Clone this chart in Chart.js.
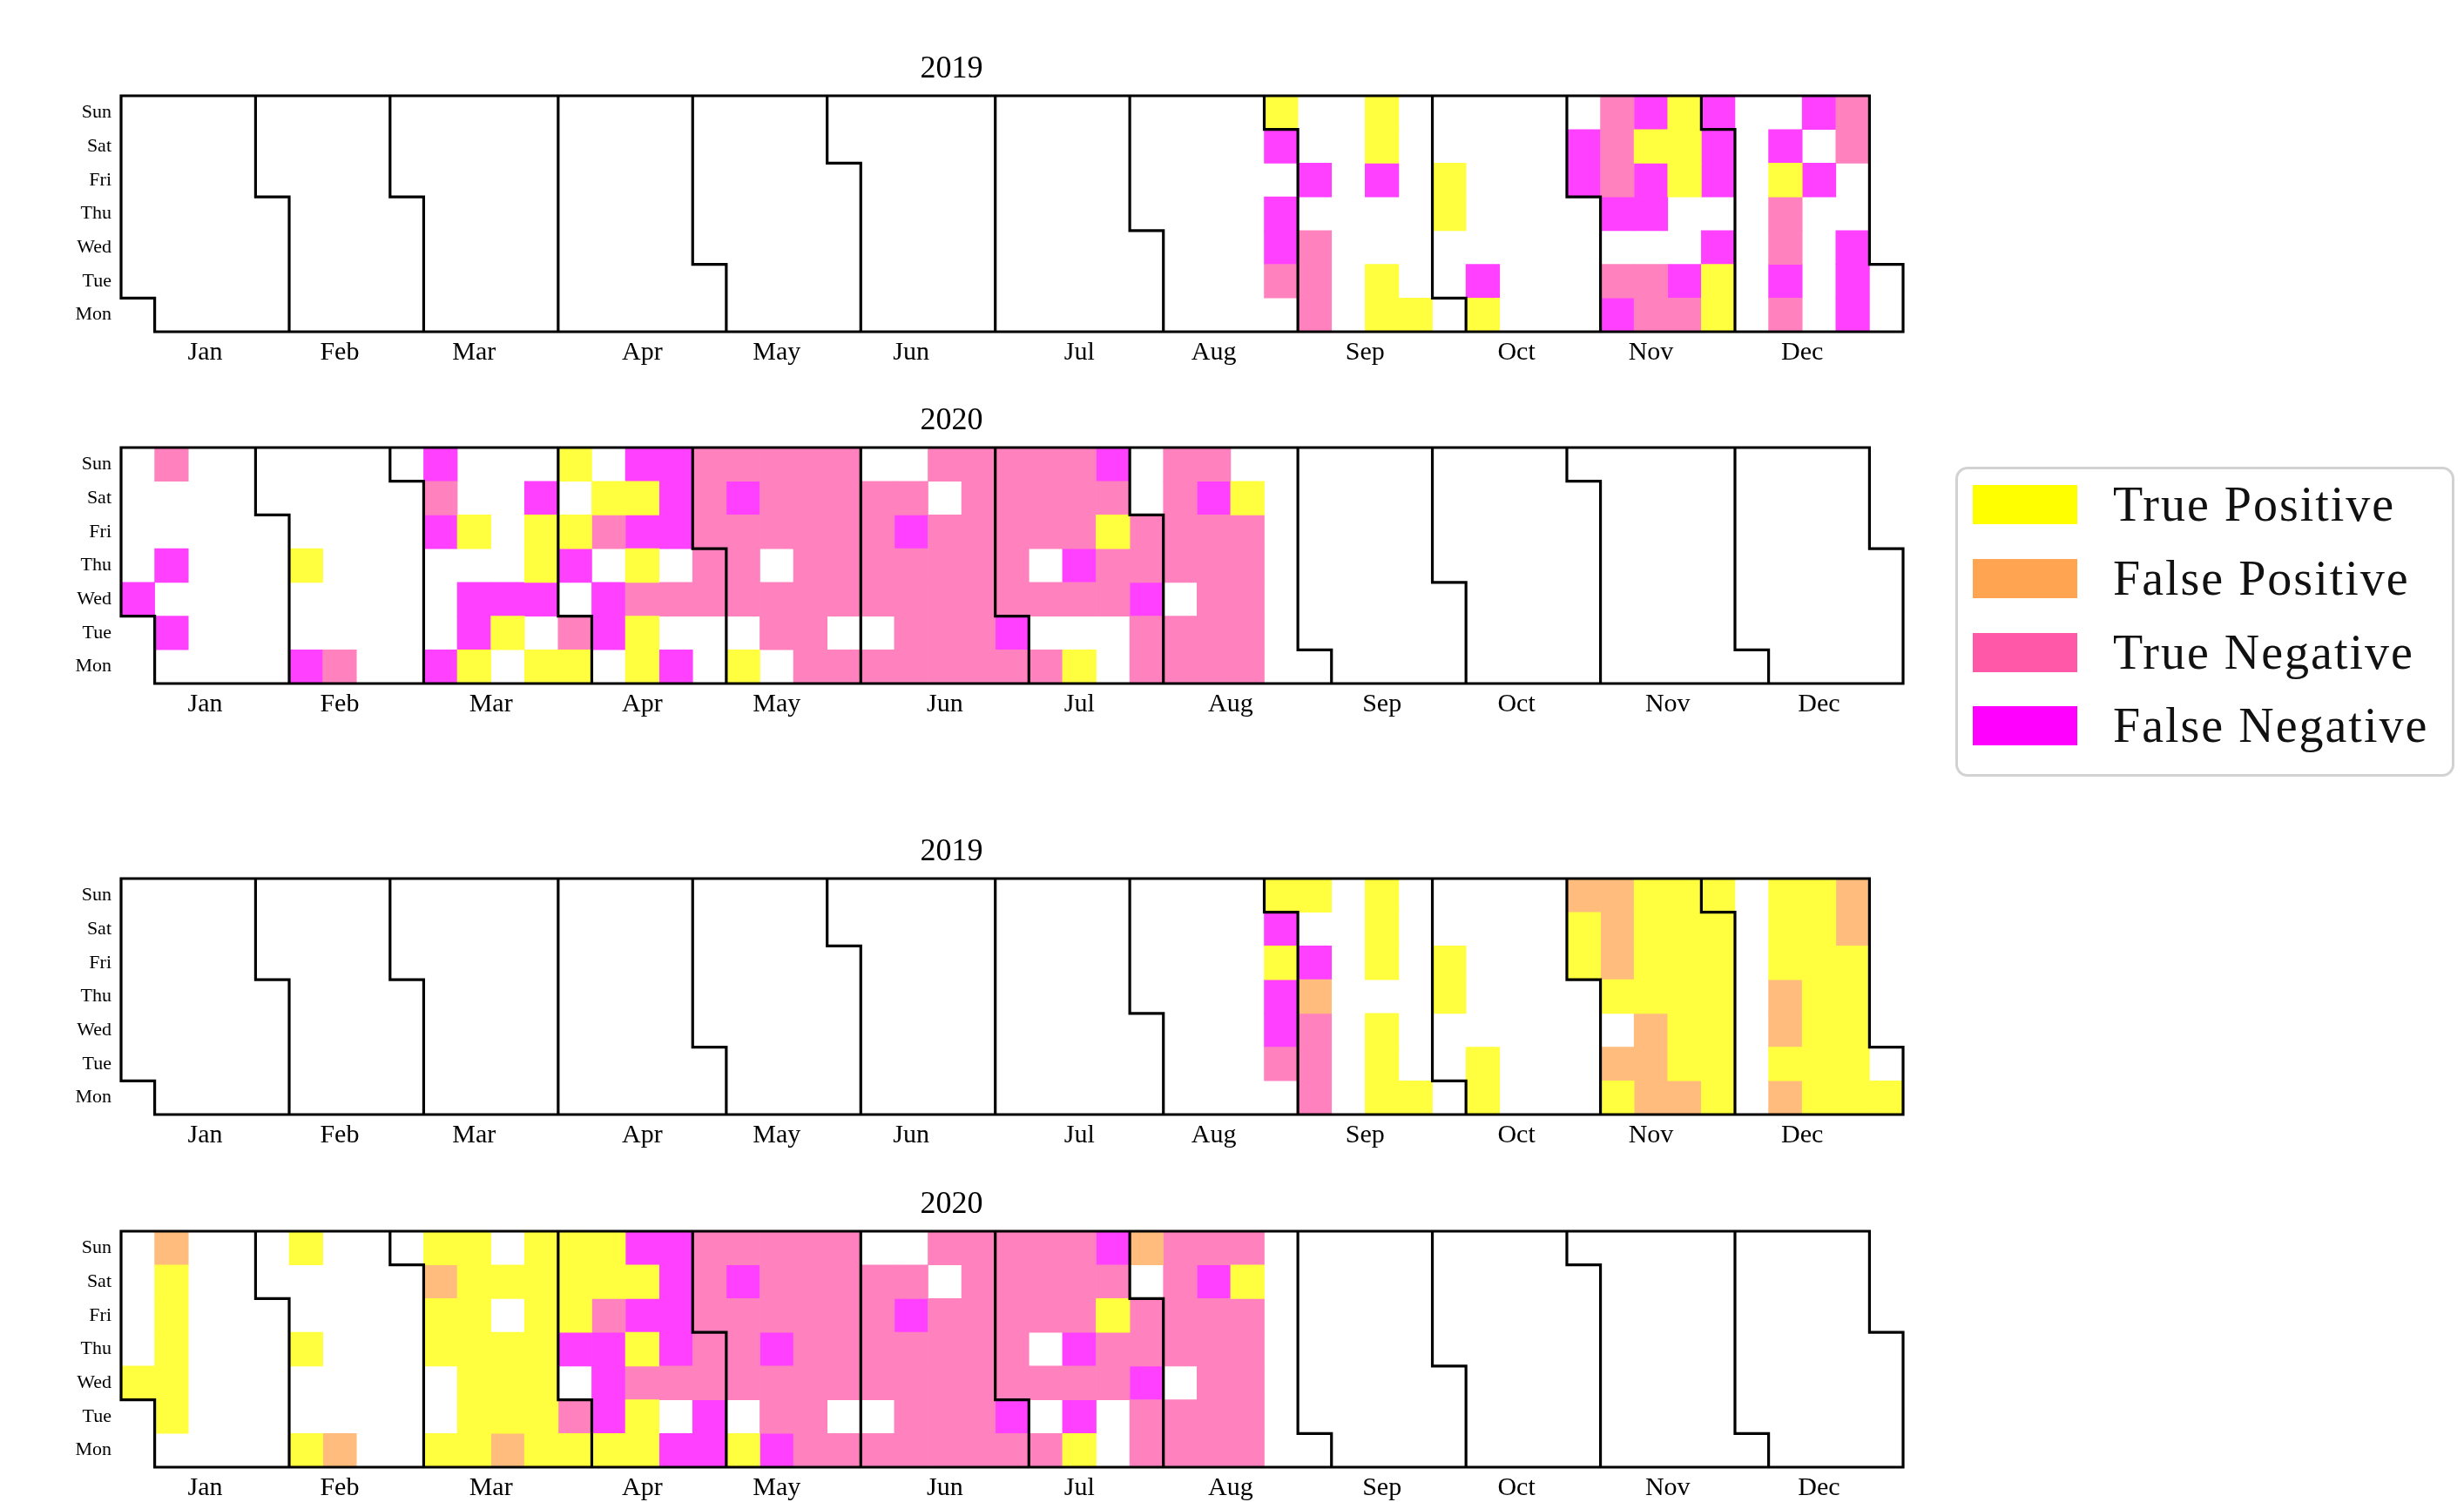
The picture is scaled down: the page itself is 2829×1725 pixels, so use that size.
<!DOCTYPE html>
<html>
<head>
<meta charset="utf-8">
<script src="https://cdn.jsdelivr.net/npm/chart.js@4.4.1/dist/chart.umd.min.js"></script>
<style>
  html, body { margin: 0; padding: 0; background: #fff; }
  body { width: 2829px; height: 1725px; position: relative; overflow: hidden;
         font-family: 'Liberation Serif', 'DejaVu Serif', serif; }
  canvas.panel { position: absolute; left: 0; }
  #legend { position: absolute; left: 2245px; top: 536px; width: 573px; height: 356px;
            box-sizing: border-box; border: 3px solid #d2d2d2; border-radius: 14px; background: #fff; }
  .item { position: absolute; left: 17px; height: 60px; display: flex; align-items: center; }
  .swatch { width: 120px; height: 45px; margin-right: 41px; }
  .label { font-size: 56px; letter-spacing: 2px; color: #111; line-height: 1; white-space: nowrap; }
</style>
</head>
<body>
<canvas id="c0" class="panel" width="2240" height="431" style="top:10px"></canvas>
<canvas id="c1" class="panel" width="2240" height="431" style="top:414px"></canvas>
<canvas id="c2" class="panel" width="2240" height="431" style="top:909px"></canvas>
<canvas id="c3" class="panel" width="2240" height="431" style="top:1314px"></canvas>
<div id="legend"></div>
<script>
// Outcome classes and their colours
const outcomeNames = ['True Positive', 'False Positive', 'True Negative', 'False Negative'];
const outcomeColors = ['#FFFF00', '#FFA552', '#FF58A8', '#FF00FF'];
const cellAlpha = 0.75;

const dayLabels = ['Mon', 'Tue', 'Wed', 'Thu', 'Fri', 'Sat', 'Sun'];
const monthLabels = ['Jan', 'Feb', 'Mar', 'Apr', 'May', 'Jun', 'Jul', 'Aug', 'Sep', 'Oct', 'Nov', 'Dec'];

// Daily outcome codes, one string per week (Monday to Sunday):
// 0 = none, 1 = true positive, 2 = false positive, 3 = true negative, 4 = false negative
const weeksFrom2019 = '2019-08-26';
const weeksFrom2020 = '2019-12-30';

const upper2019 = [
  '0344041', '3330400', '0000000', '1100411', '1000000', '0001100', '1400000',
  '0000000', '0000000', '0000440', '4304333', '3304414', '3400111', '1140444',
  '0000000', '3433140', '0000404', '4440033', '0000000'
];
const upper2020 = [
  '0040000', '0404003', '0000000', '0000000', '0000000', '4001000', '3000000',
  '0000000', '0000000', '4000434', '1440100', '0140000', '1041140', '1304101',
  '0440310', '1131414', '4030444', '0033333', '1033343', '0330333', '3333333',
  '3033333', '3033330', '3333430', '3333303', '3333333', '3433333', '3030333',
  '1034333', '0033134', '3343300', '3303333', '3333343', '3333310'
];
const lower2019 = [
  '0344141', '3332401', '0000000', '1110111', '1000000', '0001100', '1100000',
  '0000000', '0000000', '0000112', '1201222', '2221111', '2111111', '1111111',
  '0000000', '2122111', '1111111', '1111122', '1000000'
];
const lower2020 = [
  '0010000', '0111112', '0000000', '0000000', '0000000', '1001001', '2000000',
  '0000000', '0000000', '1001121', '1111111', '2111010', '1111111', '1304111',
  '1444311', '1131414', '4034444', '4433333', '1033343', '4334333', '3333333',
  '3033333', '3033330', '3333430', '3333303', '3333333', '3433333', '3030333',
  '1434333', '0033134', '3343302', '3303333', '3333343', '3333313'
];

const panels = [
  { canvas: 'c0', year: 2019, from: weeksFrom2019, weeks: upper2019 },
  { canvas: 'c1', year: 2020, from: weeksFrom2020, weeks: upper2020 },
  { canvas: 'c2', year: 2019, from: weeksFrom2019, weeks: lower2019 },
  { canvas: 'c3', year: 2020, from: weeksFrom2020, weeks: lower2020 }
];

const FONT = "'Liberation Serif', 'DejaVu Serif', serif";
const DAY = 86400000;

// Monday = 0 ... Sunday = 6
function weekday(t) { return (new Date(t).getUTCDay() + 6) % 7; }
// Week column of a date inside its year (weeks start on Monday)
function weekOf(year, t) {
  const jan1 = Date.UTC(year, 0, 1);
  const doy = Math.round((t - jan1) / DAY);
  return Math.floor((doy + weekday(jan1)) / 7);
}
// Lightened, opaque version of a colour (as if laid over white)
function fade(hex) {
  const n = parseInt(hex.slice(1), 16);
  const mix = c => Math.round(255 * (1 - cellAlpha) + c * cellAlpha);
  return `rgb(${mix((n >> 16) & 255)}, ${mix((n >> 8) & 255)}, ${mix(n & 255)})`;
}

// One floating bar per day cell: x = week column, y = [weekday, weekday + 1]
function cellsFor(p) {
  const start = Date.parse(p.from + 'T00:00:00Z');
  const sets = outcomeNames.map(() => []);
  p.weeks.forEach((s, i) => {
    for (let j = 0; j < 7; j++) {
      const code = Number(s[j]);
      if (!code) continue;
      const t = start + (i * 7 + j) * DAY;
      if (new Date(t).getUTCFullYear() !== p.year) continue;
      const w = weekOf(p.year, t), d = weekday(t);
      sets[code - 1].push({ x: w + 0.5, y: [d, d + 1] });
    }
  });
  return sets;
}

// Month label positions: middle of the weeks each month spans
function monthCenters(year) {
  return monthLabels.map((_, m) => {
    const a = weekOf(year, Date.UTC(year, m, 1));
    const b = weekOf(year, Date.UTC(year, m + 1, 0));
    return (a + b) / 2 + 0.5;
  });
}

// Draws the year frame and the stepped borders between months
const outlinePlugin = {
  id: 'monthOutlines',
  afterDatasetsDraw(chart, args, opts) {
    const year = opts.year;
    const { x, y } = chart.scales;
    const px = v => x.getPixelForValue(v);
    const py = v => y.getPixelForValue(v);
    const ctx = chart.ctx;
    ctx.save();
    ctx.strokeStyle = '#000';
    ctx.lineWidth = 3.2;
    ctx.lineJoin = 'miter';
    const jan1 = Date.UTC(year, 0, 1), dec31 = Date.UTC(year, 11, 31);
    const d0 = weekday(jan1), d1 = weekday(dec31), wl = weekOf(year, dec31);
    ctx.beginPath();
    ctx.moveTo(px(0), py(7));
    if (d1 < 6) {
      ctx.lineTo(px(wl), py(7));
      ctx.lineTo(px(wl), py(d1 + 1));
      ctx.lineTo(px(wl + 1), py(d1 + 1));
    } else {
      ctx.lineTo(px(wl + 1), py(7));
    }
    ctx.lineTo(px(wl + 1), py(0));
    if (d0 > 0) {
      ctx.lineTo(px(1), py(0));
      ctx.lineTo(px(1), py(d0));
      ctx.lineTo(px(0), py(d0));
    } else {
      ctx.lineTo(px(0), py(0));
    }
    ctx.closePath();
    ctx.stroke();
    for (let m = 1; m < 12; m++) {
      const t = Date.UTC(year, m, 1);
      const w = weekOf(year, t), d = weekday(t);
      ctx.beginPath();
      if (d === 0) {
        ctx.moveTo(px(w), py(0));
        ctx.lineTo(px(w), py(7));
      } else {
        ctx.moveTo(px(w + 1), py(0));
        ctx.lineTo(px(w + 1), py(d));
        ctx.lineTo(px(w), py(d));
        ctx.lineTo(px(w), py(7));
      }
      ctx.stroke();
    }
    ctx.restore();
  }
};

panels.forEach(p => {
  const sets = cellsFor(p);
  const centers = monthCenters(p.year);
  const nWeeks = weekOf(p.year, Date.UTC(p.year, 11, 31)) + 1;
  new Chart(document.getElementById(p.canvas), {
    type: 'bar',
    data: {
      datasets: sets.map((data, k) => ({
        label: outcomeNames[k],
        data,
        backgroundColor: fade(outcomeColors[k]),
        borderWidth: 0,
        grouped: false,
        categoryPercentage: 1,
        barPercentage: 1
      }))
    },
    options: {
      responsive: false,
      animation: false,
      events: [],
      layout: { padding: { left: 0, right: 55, top: 0, bottom: 0 } },
      plugins: {
        legend: { display: false },
        tooltip: { enabled: false },
        title: {
          display: true,
          text: String(p.year),
          color: '#000',
          font: { family: FONT, size: 36, weight: 'normal' },
          padding: { top: 47.8, bottom: 9 }
        },
        monthOutlines: { year: p.year }
      },
      scales: {
        x: {
          type: 'linear', min: 0, max: nWeeks, offset: false,
          grid: { display: false, drawTicks: false, offset: false },
          border: { display: false },
          afterBuildTicks: s => { s.ticks = centers.map(v => ({ value: v })); },
          afterFit: s => { s.height = 60; },
          ticks: {
            autoSkip: false, maxRotation: 0, padding: 6, color: '#000',
            font: { family: FONT, size: 30 },
            callback: (v, i) => monthLabels[i]
          }
        },
        y: {
          type: 'linear', min: 0, max: 7,
          grid: { display: false, drawTicks: false },
          border: { display: false },
          afterBuildTicks: s => { s.ticks = dayLabels.map((_, i) => ({ value: i + 0.5 })); },
          afterFit: s => { s.width = 139; },
          ticks: {
            autoSkip: false, padding: 11, color: '#000',
            font: { family: FONT, size: 22 },
            callback: (v, i) => dayLabels[i]
          }
        }
      }
    },
    plugins: [outlinePlugin]
  });
});

// Shared legend
const legend = document.getElementById('legend');
const legendTops = [10, 95, 180, 264];
outcomeNames.forEach((name, k) => {
  const item = document.createElement('div');
  item.className = 'item';
  item.style.top = legendTops[k] + 'px';
  const sw = document.createElement('div');
  sw.className = 'swatch';
  sw.style.background = outcomeColors[k];
  const lab = document.createElement('span');
  lab.className = 'label';
  lab.textContent = name;
  item.appendChild(sw);
  item.appendChild(lab);
  legend.appendChild(item);
});
</script>
</body>
</html>
